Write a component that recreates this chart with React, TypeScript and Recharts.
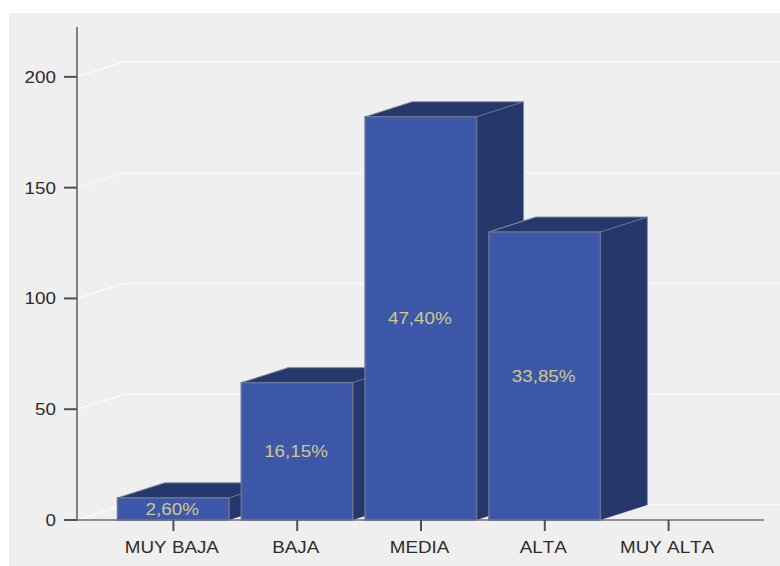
import { BarChart, Bar, XAxis, YAxis, CartesianGrid, LabelList } from 'recharts';

const categories = ['MUY BAJA', 'BAJA', 'MEDIA', 'ALTA', 'MUY ALTA'];
const counts = [10, 62, 182, 130, 0];
const percentLabels = ['2,60%', '16,15%', '47,40%', '33,85%', ''];
const yTicks = [0, 50, 100, 150, 200];

const data = categories.map((name, i) => ({
  name,
  count: counts[i],
  percent: percentLabels[i],
}));

const FONT = '"Liberation Sans", Arial, sans-serif';
const FONT_SIZE = 16.5;
const WIDEN = 1.14;
const DEPTH_X = 47;
const DEPTH_Y = 15;
const FRONT = '#3d58a8';
const SHADE = '#26376b';
const EDGE = '#68748f';

// Text drawn slightly wider than the font's natural proportions
function WideText({ x, y, anchor, dy, fill, children }: any) {
  return (
    <text
      transform={`translate(${x},${y}) scale(${WIDEN},1)`}
      textAnchor={anchor}
      dy={dy}
      fill={fill}
      fontSize={FONT_SIZE}
      fontFamily={FONT}
      style={{ fontKerning: 'none' }}
    >
      {children}
    </text>
  );
}

function XTick({ x, y, payload }: any) {
  return <WideText x={x - 1.5} y={y} anchor="middle" dy={14} fill="#2b2b2b">{payload.value}</WideText>;
}

function YTick({ x, y, payload }: any) {
  return <WideText x={x} y={y} anchor="end" dy={6} fill="#2b2b2b">{payload.value}</WideText>;
}

function PercentLabel({ x, y, width, height, value }: any) {
  if (!value) return null;
  return (
    <WideText x={x + width / 2 - 1} y={y + height / 2} anchor="middle" dy={6} fill="#cfc98f">
      {value}
    </WideText>
  );
}

// Box with a front face plus top and right faces pushed back by the depth offset
function Box3D({ x, y, width, height }: any) {
  if (!height || height <= 0) return null;
  const r = x + width;
  const b = y + height;
  return (
    <g>
      <polygon
        points={`${x},${y} ${x + DEPTH_X},${y - DEPTH_Y} ${r + DEPTH_X},${y - DEPTH_Y} ${r},${y}`}
        fill={SHADE}
      />
      <polygon
        points={`${r},${y} ${r + DEPTH_X},${y - DEPTH_Y} ${r + DEPTH_X},${b - DEPTH_Y} ${r},${b}`}
        fill={SHADE}
      />
      <path
        d={`M${x},${y} L${x + DEPTH_X},${y - DEPTH_Y} L${r + DEPTH_X},${y - DEPTH_Y} L${r + DEPTH_X},${b - DEPTH_Y}`}
        fill="none"
        stroke="#8d93a3"
        strokeWidth={1}
      />
      <line x1={r} y1={y} x2={r + DEPTH_X} y2={y - DEPTH_Y} stroke={EDGE} strokeWidth={1} />
      <rect x={x} y={y} width={width} height={height} fill={FRONT} stroke={EDGE} strokeWidth={1.5} />
    </g>
  );
}

// Grid line that climbs from the axis to the back wall, then runs across it
function WallLine({ x1, y1, x2 }: any) {
  return (
    <polyline
      points={`${x1},${y1} ${x1 + DEPTH_X},${y1 - DEPTH_Y} ${x2 + 16},${y1 - DEPTH_Y}`}
      fill="none"
      stroke="#fafafa"
      strokeWidth={1.5}
    />
  );
}

export default function App() {
  return (
    <div style={{ position: 'absolute', left: 0, top: 0, width: 780, height: 566, background: '#ffffff' }}>
      <div style={{ position: 'absolute', left: 9, top: 13, width: 771, height: 553, background: '#efefef' }} />
      <div style={{ position: 'absolute', left: 0, top: 0 }}>
        <BarChart
          width={780}
          height={566}
          data={data}
          barSize={111.5}
          margin={{ top: 27, right: 16, bottom: 0, left: 9 }}
        >
          <CartesianGrid vertical={false} horizontal={(p: any) => <WallLine key={p.key} {...p} />} syncWithTicks />
          <XAxis
            dataKey="name"
            height={46}
            interval={0}
            padding={{ left: 34.5, right: 33.5 }}
            axisLine={{ stroke: '#707070', strokeWidth: 1.5 }}
            tickLine={{ stroke: '#505050', strokeWidth: 2 }}
            tickSize={11}
            tickMargin={8}
            tick={<XTick />}
          />
          <YAxis
            width={68}
            domain={[0, 222.5]}
            ticks={yTicks}
            axisLine={{ stroke: '#808080', strokeWidth: 2 }}
            tickLine={{ stroke: '#505050', strokeWidth: 2 }}
            tickSize={13}
            tickMargin={8}
            tick={<YTick />}
          />
          <Bar dataKey="count" shape={<Box3D />} isAnimationActive={false}>
            <LabelList dataKey="percent" content={<PercentLabel />} />
          </Bar>
        </BarChart>
      </div>
    </div>
  );
}
